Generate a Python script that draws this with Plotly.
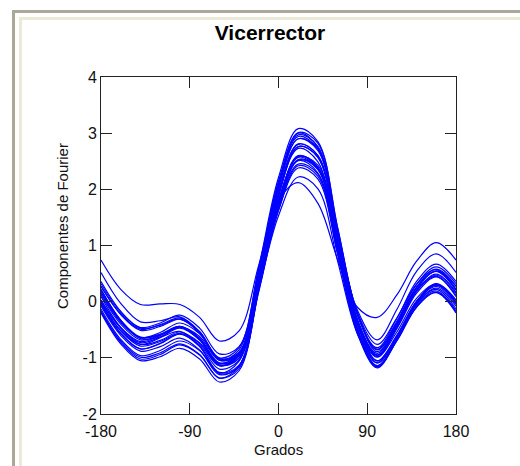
import plotly.graph_objects as go

grados = [-180, -160, -140, -120, -100, -80, -60, -40, -20, 0, 20, 40, 60, 80, 100, 120, 140, 160, 180]

curva_01 = [0.74, 0.22, -0.05, -0.04, -0.05, -0.28, -0.70, -0.52, 0.65, 1.80, 2.12, 1.75, 0.75, -0.10, -0.28, 0.12, 0.72, 1.05, 0.74]
curva_02 = [0.52, -0.03, -0.36, -0.34, -0.27, -0.54, -1.04, -0.94, 0.37, 1.78, 2.58, 2.43, 1.14, -0.15, -0.68, -0.14, 0.54, 0.85, 0.52]
curva_03 = [0.32, -0.19, -0.46, -0.38, -0.24, -0.47, -0.93, -0.80, 0.58, 2.10, 2.94, 2.72, 1.24, -0.23, -0.85, -0.35, 0.31, 0.62, 0.32]
curva_04 = [0.22, -0.33, -0.64, -0.59, -0.45, -0.66, -1.09, -0.93, 0.39, 1.76, 2.53, 2.38, 1.10, -0.19, -0.76, -0.29, 0.31, 0.57, 0.22]
curva_05 = [0.15, -0.37, -0.64, -0.55, -0.38, -0.57, -1.00, -0.82, 0.62, 2.21, 3.08, 2.85, 1.32, -0.22, -0.89, -0.43, 0.19, 0.47, 0.15]
curva_06 = [0.27, -0.22, -0.49, -0.41, -0.29, -0.53, -1.01, -0.91, 0.39, 1.80, 2.57, 2.36, 0.96, -0.42, -0.99, -0.47, 0.21, 0.55, 0.27]
curva_07 = [0.09, -0.46, -0.76, -0.69, -0.54, -0.73, -1.14, -0.95, 0.48, 2.03, 2.90, 2.72, 1.26, -0.20, -0.85, -0.40, 0.20, 0.45, 0.09]
curva_08 = [0.17, -0.35, -0.64, -0.58, -0.44, -0.67, -1.13, -1.00, 0.31, 1.69, 2.45, 2.27, 0.94, -0.38, -0.95, -0.46, 0.19, 0.49, 0.17]
curva_09 = [-0.01, -0.51, -0.76, -0.64, -0.45, -0.62, -1.04, -0.86, 0.57, 2.15, 3.00, 2.75, 1.19, -0.37, -1.06, -0.60, 0.01, 0.30, -0.01]
curva_10 = [0.21, -0.34, -0.66, -0.63, -0.53, -0.79, -1.28, -1.16, 0.20, 1.68, 2.52, 2.35, 0.99, -0.38, -0.95, -0.42, 0.24, 0.54, 0.21]
curva_11 = [0.03, -0.46, -0.71, -0.60, -0.44, -0.65, -1.10, -0.97, 0.40, 1.91, 2.73, 2.49, 0.98, -0.51, -1.15, -0.66, 0.00, 0.32, 0.03]
curva_12 = [-0.05, -0.57, -0.84, -0.75, -0.58, -0.77, -1.20, -1.04, 0.27, 1.63, 2.38, 2.18, 0.85, -0.49, -1.09, -0.63, -0.01, 0.27, -0.05]
curva_13 = [-0.13, -0.67, -0.96, -0.87, -0.70, -0.87, -1.27, -1.06, 0.42, 2.06, 2.97, 2.76, 1.21, -0.35, -1.05, -0.61, -0.03, 0.22, -0.13]
curva_14 = [-0.01, -0.52, -0.79, -0.71, -0.57, -0.80, -1.26, -1.13, 0.22, 1.70, 2.51, 2.29, 0.86, -0.57, -1.18, -0.68, -0.02, 0.29, -0.01]
curva_15 = [-0.17, -0.72, -1.02, -0.94, -0.77, -0.95, -1.36, -1.15, 0.31, 1.91, 2.80, 2.60, 1.10, -0.41, -1.09, -0.64, -0.06, 0.19, -0.17]
curva_16 = [-0.17, -0.70, -0.99, -0.91, -0.75, -0.94, -1.36, -1.19, 0.18, 1.62, 2.42, 2.23, 0.85, -0.54, -1.16, -0.70, -0.10, 0.17, -0.17]
curva_17 = [-0.20, -0.75, -1.05, -0.98, -0.83, -1.02, -1.43, -1.23, 0.23, 1.86, 2.76, 2.57, 1.06, -0.47, -1.14, -0.69, -0.09, 0.16, -0.20]
curva_18 = [0.36, -0.17, -0.47, -0.42, -0.31, -0.56, -1.04, -0.92, 0.44, 1.93, 2.76, 2.57, 1.17, -0.24, -0.82, -0.30, 0.36, 0.67, 0.36]
curva_19 = [0.02, -0.47, -0.73, -0.63, -0.47, -0.68, -1.13, -1.01, 0.24, 1.53, 2.22, 2.01, 0.72, -0.57, -1.14, -0.65, 0.00, 0.31, 0.02]
curva_20 = [0.12, -0.40, -0.68, -0.60, -0.45, -0.66, -1.10, -0.94, 0.48, 2.04, 2.90, 2.69, 1.19, -0.31, -0.96, -0.48, 0.15, 0.44, 0.12]
curva_21 = [-0.03, -0.56, -0.84, -0.74, -0.57, -0.74, -1.14, -0.95, 0.46, 1.98, 2.81, 2.60, 1.15, -0.32, -0.98, -0.54, 0.06, 0.31, -0.03]
curva_22 = [0.28, -0.23, -0.51, -0.44, -0.31, -0.54, -1.02, -0.90, 0.41, 1.81, 2.59, 2.39, 1.02, -0.34, -0.92, -0.40, 0.26, 0.58, 0.28]
curva_23 = [-0.08, -0.60, -0.88, -0.80, -0.65, -0.86, -1.30, -1.14, 0.25, 1.76, 2.60, 2.39, 0.93, -0.53, -1.16, -0.68, -0.05, 0.24, -0.08]
curva_24 = [0.21, -0.33, -0.63, -0.58, -0.45, -0.68, -1.13, -0.96, 0.48, 2.10, 3.01, 2.82, 1.30, -0.22, -0.86, -0.37, 0.26, 0.54, 0.21]

curvas = [curva_01, curva_02, curva_03, curva_04, curva_05, curva_06, curva_07,
          curva_08, curva_09, curva_10, curva_11, curva_12, curva_13, curva_14,
          curva_15, curva_16, curva_17, curva_18, curva_19, curva_20, curva_21,
          curva_22, curva_23, curva_24]

x_ticks = [-180, -90, 0, 90, 180]
y_ticks = [-2, -1, 0, 1, 2, 3, 4]

titulo = "Vicerrector"
x_titulo = "Grados"
y_titulo = "Componentes de Fourier"

fig = go.Figure()
for c in curvas:
    fig.add_trace(go.Scatter(x=grados, y=c, mode="lines",
                             line=dict(color="#0000ff", width=1.2, shape="spline", smoothing=1.0),
                             showlegend=False, hoverinfo="skip"))

# plot area in pixels: left 101, right 456, top 77, bottom 414
L, R, T, B = 101, 456, 77, 414
W, H = R - L, B - T

def px2x(p):
    return (p - L) / W

def px2y(p):
    return (B - p) / H

FONT = "Liberation Sans, Arial, sans-serif"

shapes = [
    dict(type="rect", xref="paper", yref="paper",
         x0=px2x(13.5), x1=px2x(700), y0=px2y(700), y1=px2y(11.5),
         line=dict(color="#aca899", width=3), fillcolor="rgba(0,0,0,0)", layer="below"),
    dict(type="rect", xref="paper", yref="paper",
         x0=px2x(20.5), x1=px2x(700), y0=px2y(700), y1=px2y(18.5),
         line=dict(color="#ece9d8", width=3), fillcolor="rgba(0,0,0,0)", layer="below"),
]

annotations = [
    dict(text=x_titulo, xref="paper", yref="paper", x=px2x(278), y=px2y(449),
         xanchor="center", yanchor="middle", showarrow=False,
         font=dict(family=FONT, size=15, color="#111111")),
    dict(text=y_titulo, xref="paper", yref="paper", x=px2x(63), y=px2y(226),
         xanchor="center", yanchor="middle", showarrow=False, textangle=-90,
         font=dict(family=FONT, size=15, color="#111111")),
]

axis_font = dict(family=FONT, size=16, color="#111111")

fig.update_layout(
    width=520, height=466,
    margin=dict(l=L, r=520 - R, t=T, b=466 - B, pad=0),
    paper_bgcolor="white", plot_bgcolor="white",
    shapes=shapes, annotations=annotations,
    title=dict(text="<b>" + titulo + "</b>", x=px2x(270), xref="paper", xanchor="center",
               y=1 - 33 / 466, yref="container", yanchor="middle",
               font=dict(family=FONT, size=21, color="#000000")),
    xaxis=dict(range=[-180, 180], tickvals=x_ticks, ticktext=[str(v) for v in x_ticks],
               ticks="inside", ticklen=11, tickwidth=1, tickcolor="#222222",
               showline=True, linecolor="#222222", linewidth=1, mirror="ticks",
               showgrid=False, zeroline=False, tickfont=axis_font, ticklabelstandoff=3),
    yaxis=dict(range=[-2, 4], tickvals=y_ticks, ticktext=[str(v) for v in y_ticks],
               ticks="inside", ticklen=11, tickwidth=1, tickcolor="#222222",
               showline=True, linecolor="#222222", linewidth=1, mirror="ticks",
               showgrid=False, zeroline=False, tickfont=axis_font),
)

fig.write_html("out.html", config={"displayModeBar": False},
               post_script="document.body.style.margin='0';document.body.style.overflow='hidden';")
